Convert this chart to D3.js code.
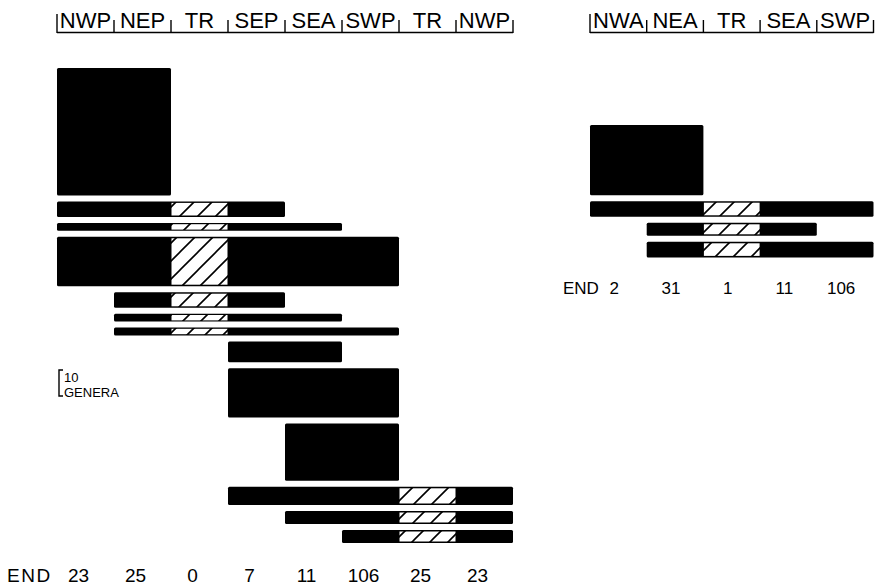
<!DOCTYPE html>
<html>
<head>
<meta charset="utf-8">
<script src="https://cdn.jsdelivr.net/npm/d3@7"></script>
<style>
  html, body { margin: 0; padding: 0; background: #fff; }
  svg { display: block; }
  text { font-family: "Liberation Sans", Arial, Helvetica, sans-serif; fill: #000; }
</style>
</head>
<body>
<svg id="chart" width="882" height="585"></svg>
<script>
// ---------- DATA ----------
const leftRegions   = ["NWP", "NEP", "TR", "SEP", "SEA", "SWP", "TR", "NWP"];
const leftEndemics  = [23, 25, 0, 7, 11, 106, 25, 23];
const leftBarStart  = [0, 0, 0, 0, 1, 1, 1, 3, 3, 4, 3, 4, 5];
const leftBarEnd    = [1, 3, 4, 5, 3, 4, 5, 4, 5, 5, 7, 7, 7];
const leftGenera    = [49, 6, 3, 19, 6, 3, 3, 8, 19, 22, 7, 5, 5];

const rightRegions  = ["NWA", "NEA", "TR", "SEA", "SWP"];
const rightEndemics = [2, 31, 1, 11, 106];
const rightBarStart = [0, 0, 1, 1];
const rightBarEnd   = [1, 4, 3, 4];
const rightGenera   = [27, 6, 5, 6];

const legendGenera = 10;

// ---------- DRAW ----------
const svg = d3.select("#chart");

const defs = svg.append("defs");
const pat = defs.append("pattern")
  .attr("id", "hatch")
  .attr("patternUnits", "userSpaceOnUse")
  .attr("width", 18).attr("height", 18);
pat.append("rect").attr("width", 18).attr("height", 18).attr("fill", "#fff");
pat.append("path")
  .attr("d", "M0,18 L18,0 M-4.5,4.5 L4.5,-4.5 M13.5,22.5 L22.5,13.5")
  .attr("stroke", "#000").attr("stroke-width", 1.6);

const hScale = d3.scaleLinear().domain([0, 10]).range([0, 26]);
const gap = 6;

function panel(cfg) {
  const g = svg.append("g");
  const n = cfg.regions.length;
  const x = d3.scaleBand().domain(d3.range(n)).range(cfg.xRange).paddingInner(0).paddingOuter(0);
  const bw = x.bandwidth();

  // header labels
  g.selectAll("text.hdr").data(cfg.regions).enter().append("text")
    .attr("class", "hdr")
    .attr("x", (d, i) => x(i) + bw / 2)
    .attr("y", 28)
    .attr("text-anchor", "middle")
    .attr("font-size", 22)
    .text(d => d);

  // bracket
  g.append("line")
    .attr("x1", x(0)).attr("x2", x(n - 1) + bw)
    .attr("y1", 32.5).attr("y2", 32.5)
    .attr("stroke", "#000").attr("stroke-width", 1.6);
  g.selectAll("line.tick").data(d3.range(n + 1)).enter().append("line")
    .attr("class", "tick")
    .attr("x1", i => i < n ? x(i) : x(n - 1) + bw)
    .attr("x2", i => i < n ? x(i) : x(n - 1) + bw)
    .attr("y1", i => i === 0 ? 14 : 20).attr("y2", 33)
    .attr("stroke", "#000").attr("stroke-width", 1.4);

  // stacked bars
  let yCur = cfg.yStart;
  const bars = cfg.genera.map((v, i) => {
    const h = hScale(v);
    const b = { y: yCur, h: h, s: cfg.start[i], e: cfg.end[i] };
    yCur += h + gap;
    return b;
  });

  bars.forEach(b => {
    g.append("rect")
      .attr("x", x(b.s)).attr("y", b.y)
      .attr("width", x(b.e) + bw - x(b.s)).attr("height", b.h)
      .attr("rx", 1.5)
      .attr("fill", "#000");
    d3.range(b.s, b.e + 1).forEach(c => {
      if (cfg.regions[c] === "TR" && c > b.s && c < b.e) {
        const inset = b.h > 10 ? 1.5 : 1.2;
        g.append("rect")
          .attr("x", x(c) + 0.5).attr("y", b.y + inset)
          .attr("width", bw - 1).attr("height", b.h - 2 * inset)
          .attr("fill", "url(#hatch)");
      }
    });
  });

  // endemic numbers
  g.append("text")
    .attr("x", cfg.endX).attr("y", cfg.endY)
    .attr("font-size", cfg.endSize)
    .attr("letter-spacing", cfg.endSpacing)
    .text("END");
  g.selectAll("text.end").data(cfg.endemics).enter().append("text")
    .attr("class", "end")
    .attr("x", (d, i) => x(i) + bw / 2 + cfg.endShift)
    .attr("y", cfg.endY)
    .attr("text-anchor", "middle")
    .attr("font-size", cfg.endSize)
    .text(d => d);
  return x;
}

panel({
  regions: leftRegions, endemics: leftEndemics,
  start: leftBarStart, end: leftBarEnd, genera: leftGenera,
  xRange: [57, 513], yStart: 68,
  endX: 7, endY: 582, endSize: 19, endShift: -7, endSpacing: 1.5
});

panel({
  regions: rightRegions, endemics: rightEndemics,
  start: rightBarStart, end: rightBarEnd, genera: rightGenera,
  xRange: [590, 873.5], yStart: 125,
  endX: 563, endY: 294, endSize: 17, endShift: -4, endSpacing: 0
});

// legend: 10 genera bracket
const lg = svg.append("g");
const lTop = 370, lH = hScale(legendGenera);
lg.append("path")
  .attr("d", `M${63},${lTop} L${59},${lTop} L${59},${lTop + lH} L${63},${lTop + lH}`)
  .attr("fill", "none").attr("stroke", "#000").attr("stroke-width", 1.4);
lg.append("text").attr("x", 64).attr("y", lTop + 12).attr("font-size", 13).text(legendGenera);
lg.append("text").attr("x", 64).attr("y", lTop + lH + 0.5).attr("font-size", 13).text("GENERA");
</script>
</body>
</html>
